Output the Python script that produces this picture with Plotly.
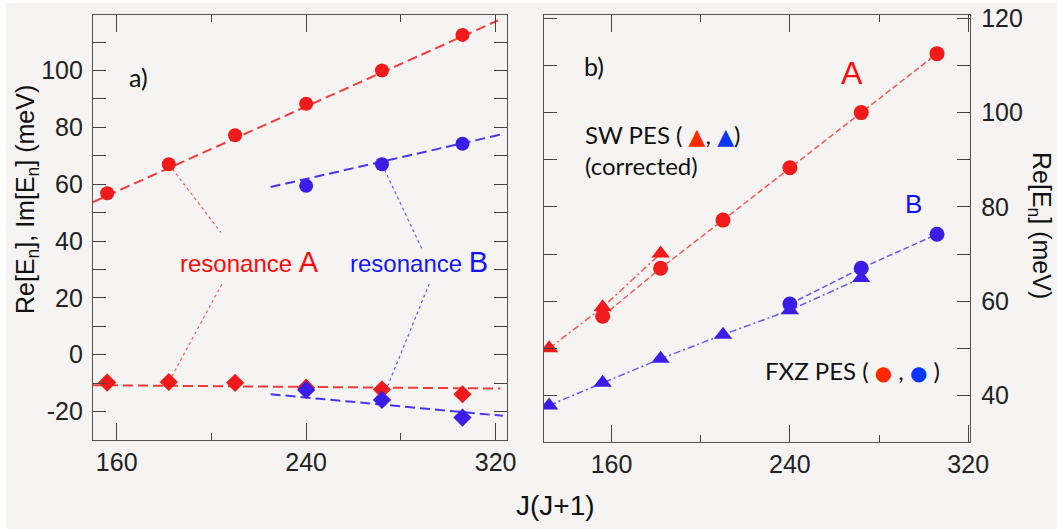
import plotly.graph_objects as go

# ---------------- data ----------------
# J(J+1) values
jj_A = [156, 182, 210, 240, 272, 306]
jj_B = [240, 272, 306]
# panel a) : real and imaginary parts (meV)
reA = [56.8, 67.0, 77.2, 88.3, 100.0, 112.5]
imA = [-9.8, -9.6, -9.9, -11.6, -12.2, -13.9]
reB = [59.4, 67.0, 74.2]
imB = [-12.4, -15.9, -22.1]
# linear fits shown in panel a)
fitA_re_x = [150, 321]
fitA_re_y = [53.7, 117.6]
fitB_re_x = [225, 322]
fitB_re_y = [59.0, 77.4]
fitA_im_x = [150, 322]
fitA_im_y = [-10.7, -11.9]
fitB_im_x = [225, 323]
fitB_im_y = [-13.9, -21.5]
# panel b) : SW PES (corrected)
swA_x = [132, 156, 182]
swA_y = [50.0, 58.7, 70.1]
swB_x = [132, 156, 182, 210, 240, 272]
swB_y = [37.9, 42.7, 47.8, 52.9, 58.1, 64.9]
# tick values
xticks_major = [160, 240, 320]
yticks_a = list(range(-30, 120, 10))
ylabels_a = [str(v) if v % 20 == 0 else "" for v in yticks_a]
yticks_b = list(range(40, 121, 10))
ylabels_b = [str(v) if v % 20 == 0 else "" for v in yticks_b]

# ---------------- style ----------------
W, H = 1057, 529
BG = "#f5f4f2"
RED = "#f01a1a"
BLUE = "#3b1de8"
RED_L = "#f53c3c"
BLUE_L = "#4a34f0"
RED_L2 = "#ff5555"
BLUE_L2 = "#6a58f5"
SANS = "Liberation Sans"
HUM = "Lato"

fig = go.Figure()

def line(x, y, color, dash, width, xa, ya):
    fig.add_trace(go.Scatter(x=x, y=y, mode="lines", xaxis=xa, yaxis=ya,
                             line=dict(color=color, dash=dash, width=width),
                             hoverinfo="skip", showlegend=False))

def marks(x, y, color, symbol, size, xa, ya):
    fig.add_trace(go.Scatter(x=x, y=y, mode="markers", xaxis=xa, yaxis=ya,
                             marker=dict(color=color, symbol=symbol, size=size,
                                         line=dict(width=0)),
                             showlegend=False))

# panel a)
d1 = "10px,5px"
line(fitA_re_x, fitA_re_y, RED_L, d1, 2, "x", "y")
line(fitB_re_x, fitB_re_y, BLUE_L, d1, 2, "x", "y")
line(fitA_im_x, fitA_im_y, RED_L, d1, 2, "x", "y")
line(fitB_im_x, fitB_im_y, BLUE_L, d1, 2, "x", "y")
marks(jj_A, reA, RED, "circle", 14, "x", "y")
marks(jj_A, imA, RED, "diamond", 14, "x", "y")
marks(jj_B, reB, BLUE, "circle", 14, "x", "y")
marks(jj_B, imB, BLUE, "diamond", 14, "x", "y")

# panel b)
d2 = "6px,3px"
dd = "7px,3px,2px,3px"
line(swA_x, swA_y, RED_L2, dd, 1.5, "x2", "y2")
line(jj_A, reA, RED_L2, d2, 1.5, "x2", "y2")
line(swB_x, swB_y, BLUE_L2, dd, 1.5, "x2", "y2")
line(jj_B, reB, BLUE_L2, d2, 1.5, "x2", "y2")
marks(swA_x, swA_y, RED, "triangle-up", 16, "x2", "y2")
marks(swB_x, swB_y, BLUE, "triangle-up", 16, "x2", "y2")
marks(jj_A, reA, RED, "circle", 15, "x2", "y2")
marks(jj_B, reB, BLUE, "circle", 15, "x2", "y2")

# ---------------- axes ----------------
tickfont = dict(family=SANS, size=25, color="#222")
common = dict(showgrid=False, zeroline=False, showline=True, linecolor="#555",
              linewidth=1.3, mirror="ticks", ticks="inside", tickcolor="#444",
              tickwidth=1.3, tickfont=tickfont, automargin=False)
xcommon = dict(common, tickvals=xticks_major, ticktext=[str(v) for v in xticks_major],
               ticklen=17,
               minor=dict(dtick=40, tick0=0, ticks="inside", ticklen=7,
                          tickcolor="#444", tickwidth=1.3))

fig.update_layout(
    width=W, height=H, autosize=False,
    margin=dict(l=0, r=0, t=0, b=0, pad=0),
    paper_bgcolor=BG, plot_bgcolor=BG,
    xaxis=dict(xcommon, domain=[93 / W, 507 / W], range=[150, 324.8], anchor="y"),
    yaxis=dict(common, domain=[89 / H, 514 / H], range=[-30, 119.5], anchor="x",
               tickvals=yticks_a, ticktext=ylabels_a, ticklen=13,
               ticklabelstandoff=4),
    xaxis2=dict(xcommon, domain=[544 / W, 970 / W], range=[129.7, 320.8], anchor="y2"),
    yaxis2=dict(common, domain=[87.3 / H, 514 / H], range=[30.2, 120.7], anchor="x2",
                side="right", tickvals=yticks_b, ticktext=ylabels_b, ticklen=13,
                ticklabelstandoff=5),
)

# ---------------- leader lines ----------------
def leader(x0, y0, x1, y1, color):
    fig.add_shape(type="line", xref="x", yref="y", x0=x0, y0=y0, x1=x1, y1=y1,
                  line=dict(color=color, width=1.2, dash="dot"), layer="below")

leader(jj_A[1], reA[1], 204, 43, "#ff6060")
leader(204.4, 24.8, jj_A[1], imA[1], "#ff6060")
leader(jj_B[1], reB[1], 289, 37, "#6060ff")
leader(292, 25, jj_B[1], imB[1], "#6060ff")

# white margins of the original picture
fig.add_shape(type="rect", xref="paper", yref="paper", x0=0, x1=6 / W, y0=0, y1=1,
              fillcolor="white", line_width=0, layer="above")
fig.add_shape(type="rect", xref="paper", yref="paper", x0=0, x1=1, y0=1 - 3 / H, y1=1,
              fillcolor="white", line_width=0, layer="above")

# ---------------- text ----------------
def ann(text, x, y, size, color="#111", family=SANS, xref="paper", yref="paper",
        xanchor="center", yanchor="middle", angle=0, align="center"):
    fig.add_annotation(text=text, x=x, y=y, xref=xref, yref=yref, showarrow=False,
                       xanchor=xanchor, yanchor=yanchor, textangle=angle, align=align,
                       font=dict(family=family, size=size, color=color))

ann("Re[E<sub>n</sub>], Im[E<sub>n</sub>] (meV)", 27 / W, 1 - 200 / H, 25, angle=-90)
ann("Re[E<sub>n</sub>] (meV)", 1040 / W, 1 - 225 / H, 25, angle=90)
ann("J(J+1)", 555 / W, 1 - 505 / H, 28)

ann("a)", 138 / W, 1 - 77 / H, 25, family=HUM)
ann("b)", 594 / W, 1 - 66 / H, 25, family=HUM)

ann("resonance <span style='font-size:29px'>A</span>", 249 / W, 1 - 262 / H, 24,
    color="#ff0a0a")
ann("resonance <span style='font-size:29px'>B</span>", 419 / W, 1 - 262 / H, 24,
    color="#1414ff")

ann("A", 852 / W, 1 - 73 / H, 32, color="#ff0a0a")
ann("B", 913 / W, 1 - 204 / H, 26, color="#1010ff")

GL = "font-family:DejaVu Sans;font-size:22px"
ann(f"SW PES ( <span style='color:#ff2a00;{GL}'>▲</span>, "
    f"<span style='color:#0a36ff;{GL}'>▲</span>)<br>(corrected)",
    583 / W, 1 - 150 / H, 24, family=HUM, xanchor="left", align="left")
GC = "font-family:DejaVu Sans;font-size:20px"
ann(f"FXZ PES ( <span style='color:#ff2a00;{GC}'>●</span> , "
    f"<span style='color:#0a36ff;{GC}'>●</span> )",
    763 / W, 1 - 370 / H, 24, family=HUM, xanchor="left", align="left")

fig.write_html("out.html",
               config={"displayModeBar": False},
               post_script="document.body.style.margin='0';"
                           "document.body.style.overflow='hidden';")
